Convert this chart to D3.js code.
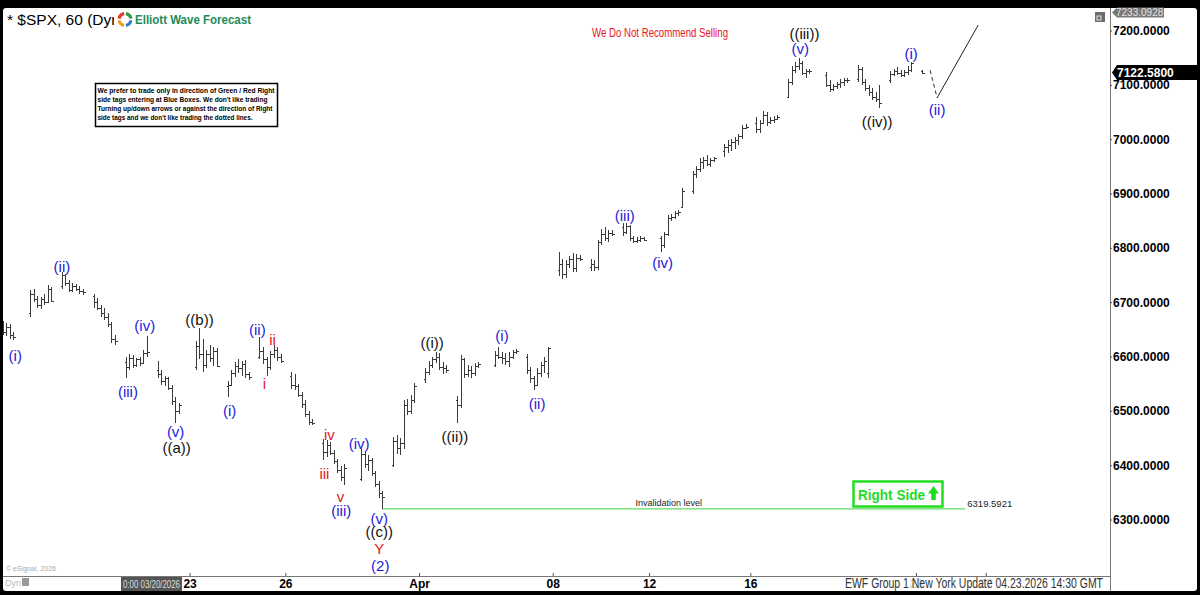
<!DOCTYPE html>
<html>
<head>
<meta charset="utf-8">
<script src="https://cdn.jsdelivr.net/npm/d3@7"></script>
<style>
  body { margin: 0; background: #000; }
  #vis { width: 1200px; height: 595px; }
  text { font-family: "Liberation Sans", Arial, sans-serif; }
  .axis path { display: none; }
  .axis line { stroke: #555; }
  .axis text { font-weight: bold; font-size: 12px; fill: #000; }
  .bar line { stroke: #3a3a3a; stroke-width: 1; shape-rendering: crispEdges; }
</style>
</head>
<body>
<div id="vis"></div>
<script>

// SPX 60 min bars, regular session (7 bars a day)
var sessionDates = ['2026-03-13', '2026-03-16', '2026-03-17', '2026-03-18', '2026-03-19', '2026-03-20',
    '2026-03-23', '2026-03-24', '2026-03-25', '2026-03-26', '2026-03-27',
    '2026-03-30', '2026-03-31', '2026-04-01', '2026-04-02',
    '2026-04-06', '2026-04-07', '2026-04-08', '2026-04-09', '2026-04-10',
    '2026-04-13', '2026-04-14', '2026-04-15', '2026-04-16', '2026-04-17',
    '2026-04-20', '2026-04-21', '2026-04-22', '2026-04-23'];
var futureDates = ['2026-04-24', '2026-04-27', '2026-04-28'];

var opens = [
    [6690, 6675, 6665, 6660, 6645, 6655, 6640],
    [6680, 6715, 6705, 6695, 6705, 6700, 6725],
    [6730, 6750, 6735, 6722, 6730, 6725, 6720],
    [6712, 6700, 6690, 6680, 6672, 6660, 6632],
    [6590, 6580, 6598, 6585, 6595, 6588, 6606],
    [6575, 6568, 6555, 6560, 6542, 6518, 6500],
    [6580, 6620, 6605, 6585, 6605, 6598, 6610],
    [6545, 6548, 6570, 6582, 6578, 6586, 6568],
    [6600, 6610, 6595, 6580, 6605, 6612, 6600],
    [6565, 6548, 6545, 6530, 6512, 6495, 6480],
    [6440, 6425, 6438, 6422, 6408, 6392, 6378],
    [6375, 6420, 6402, 6410, 6385, 6365, 6348],
    [6400, 6445, 6432, 6440, 6510, 6500, 6520],
    [6558, 6572, 6585, 6595, 6600, 6580, 6578],
    [6520, 6510, 6595, 6568, 6575, 6570, 6582],
    [6585, 6602, 6600, 6598, 6592, 6600, 6608],
    [6600, 6575, 6560, 6548, 6570, 6585, 6570],
    [6760, 6770, 6752, 6770, 6780, 6762, 6782],
    [6765, 6770, 6765, 6810, 6825, 6818, 6828],
    [6838, 6830, 6840, 6818, 6812, 6815, 6818],
    [6818, 6805, 6826, 6855, 6856, 6864, 6876],
    [6905, 6935, 6945, 6958, 6962, 6955, 6962],
    [6978, 6985, 6990, 6995, 6998, 7005, 7020],
    [7030, 7018, 7030, 7045, 7032, 7035, 7038],
    [7078, 7105, 7128, 7135, 7140, 7122, 7125],
    [7118, 7100, 7092, 7098, 7102, 7105, 7108],
    [7110, 7130, 7105, 7094, 7086, 7078, 7074],
    [7108, 7120, 7125, 7122, 7118, 7124, 7128],
    [7125]
];
var highs = [
    [6700, 6685, 6672, 6665, 6662, 6660, 6645],
    [6722, 6725, 6712, 6710, 6715, 6732, 6728],
    [6755, 6752, 6740, 6735, 6734, 6730, 6724],
    [6715, 6708, 6695, 6690, 6680, 6664, 6640],
    [6600, 6604, 6602, 6598, 6600, 6612, 6637],
    [6592, 6575, 6565, 6562, 6548, 6525, 6515],
    [6628, 6652, 6632, 6612, 6622, 6618, 6615],
    [6555, 6575, 6590, 6596, 6592, 6594, 6572],
    [6635, 6618, 6600, 6610, 6622, 6618, 6604],
    [6572, 6568, 6550, 6535, 6520, 6500, 6485],
    [6448, 6446, 6442, 6428, 6412, 6398, 6402],
    [6430, 6425, 6418, 6414, 6390, 6370, 6352],
    [6452, 6455, 6450, 6520, 6522, 6530, 6552],
    [6578, 6592, 6600, 6608, 6606, 6590, 6584],
    [6528, 6603, 6598, 6585, 6582, 6588, 6590],
    [6610, 6618, 6608, 6606, 6608, 6612, 6614],
    [6605, 6580, 6565, 6578, 6590, 6600, 6618],
    [6792, 6780, 6778, 6785, 6790, 6788, 6786],
    [6780, 6778, 6815, 6835, 6838, 6832, 6832],
    [6845, 6846, 6842, 6822, 6820, 6822, 6820],
    [6822, 6830, 6860, 6862, 6868, 6870, 6910],
    [6942, 6950, 6966, 6968, 6970, 6965, 6968],
    [6992, 6998, 7000, 7004, 7010, 7026, 7028],
    [7040, 7035, 7052, 7050, 7040, 7042, 7044],
    [7110, 7134, 7142, 7150, 7144, 7130, 7130],
    [7124, 7108, 7102, 7106, 7110, 7112, 7112],
    [7136, 7132, 7110, 7100, 7094, 7086, 7100],
    [7126, 7130, 7132, 7128, 7128, 7134, 7142],
    [7128]
];
var lows = [
    [6670, 6660, 6650, 6640, 6638, 6632, 6630],
    [6673, 6700, 6690, 6688, 6695, 6698, 6700],
    [6725, 6730, 6718, 6718, 6720, 6715, 6714],
    [6690, 6685, 6672, 6668, 6655, 6625, 6622],
    [6560, 6575, 6578, 6580, 6582, 6586, 6600],
    [6560, 6548, 6545, 6538, 6510, 6478, 6495],
    [6575, 6595, 6572, 6578, 6590, 6582, 6580],
    [6525, 6545, 6562, 6570, 6565, 6560, 6556],
    [6595, 6586, 6565, 6576, 6598, 6592, 6588],
    [6540, 6538, 6525, 6505, 6488, 6474, 6474],
    [6410, 6415, 6418, 6402, 6385, 6370, 6364],
    [6370, 6395, 6390, 6380, 6360, 6340, 6319.59],
    [6396, 6420, 6418, 6430, 6492, 6495, 6515],
    [6552, 6566, 6578, 6588, 6575, 6568, 6570],
    [6478, 6505, 6560, 6562, 6560, 6565, 6578],
    [6580, 6596, 6586, 6585, 6580, 6595, 6605],
    [6568, 6552, 6538, 6545, 6562, 6570, 6560],
    [6748, 6742, 6745, 6762, 6755, 6756, 6776],
    [6758, 6758, 6760, 6805, 6812, 6810, 6822],
    [6822, 6826, 6812, 6808, 6809, 6810, 6812],
    [6792, 6800, 6822, 6850, 6853, 6858, 6874],
    [6900, 6928, 6940, 6945, 6950, 6948, 6958],
    [6968, 6975, 6978, 6982, 6990, 7000, 7018],
    [7011, 7012, 7028, 7025, 7028, 7030, 7035],
    [7075, 7100, 7122, 7128, 7118, 7112, 7120],
    [7096, 7086, 7088, 7092, 7095, 7098, 7104],
    [7105, 7100, 7088, 7080, 7072, 7068, 7058],
    [7104, 7116, 7118, 7114, 7115, 7118, 7124],
    [7120]
];
var closes = [
    [6675, 6665, 6660, 6645, 6655, 6640, 6636],
    [6715, 6705, 6695, 6705, 6700, 6725, 6703],
    [6750, 6735, 6722, 6730, 6725, 6720, 6718],
    [6700, 6690, 6680, 6672, 6660, 6632, 6628],
    [6580, 6598, 6585, 6595, 6588, 6606, 6608],
    [6568, 6555, 6560, 6542, 6518, 6500, 6510],
    [6620, 6605, 6585, 6605, 6598, 6610, 6583],
    [6548, 6570, 6582, 6578, 6586, 6568, 6562],
    [6610, 6595, 6580, 6605, 6612, 6600, 6592],
    [6548, 6545, 6530, 6512, 6495, 6480, 6478],
    [6425, 6438, 6422, 6408, 6392, 6378, 6395],
    [6420, 6402, 6410, 6385, 6365, 6348, 6342],
    [6445, 6432, 6440, 6510, 6500, 6520, 6545],
    [6572, 6585, 6595, 6600, 6580, 6578, 6576],
    [6510, 6595, 6568, 6575, 6570, 6582, 6586],
    [6602, 6600, 6598, 6592, 6600, 6608, 6610],
    [6575, 6560, 6548, 6570, 6585, 6592, 6615],
    [6770, 6752, 6770, 6780, 6762, 6782, 6780],
    [6770, 6765, 6810, 6825, 6818, 6828, 6826],
    [6830, 6840, 6818, 6812, 6815, 6818, 6814],
    [6805, 6826, 6855, 6856, 6864, 6866, 6905],
    [6935, 6945, 6958, 6962, 6955, 6962, 6966],
    [6985, 6990, 6995, 6998, 7005, 7020, 7022],
    [7018, 7030, 7045, 7032, 7035, 7038, 7040],
    [7105, 7128, 7135, 7140, 7122, 7125, 7126],
    [7100, 7092, 7098, 7102, 7105, 7108, 7109],
    [7130, 7105, 7094, 7086, 7078, 7074, 7066],
    [7120, 7125, 7122, 7118, 7124, 7128, 7140],
    [7122.58]
];

var yTicks = [6300, 6400, 6500, 6600, 6700, 6800, 6900, 7000, 7100, 7200];
var xTickDates = ['2026-03-23', '2026-03-26', '2026-04-01', '2026-04-08', '2026-04-12', '2026-04-16', '2026-04-23', '2026-04-27'];
var xTickLabels = ['23', '26', 'Apr', '08', '12', '16', '23', '27'];

var lastPrice = 7122.58;
var flagHigh = 7233.0928;
var invalidation = 6319.5921;

// wave counts: text, colour, session, bar slot, price level
var waveLabels = [
    ['(i)', 'b', '2026-03-13', 6.6, 6601],
    ['(ii)', 'b', '2026-03-17', 0, 6766],
    ['(iii)', 'b', '2026-03-19', 0.6, 6535],
    ['(iv)', 'b', '2026-03-19', 5.4, 6656],
    ['(v)', 'b', '2026-03-20', 5.1, 6461],
    ['((a))', 'k', '2026-03-20', 5.4, 6433],
    ['((b))', 'k', '2026-03-23', 1.1, 6667],
    ['(i)', 'b', '2026-03-24', 0.6, 6501],
    ['(ii)', 'b', '2026-03-25', -0.6, 6649],
    ['ii', 'r', '2026-03-25', 3.7, 6632],
    ['i', 'r', '2026-03-25', 1.4, 6551],
    ['iv', 'r', '2026-03-27', 1.7, 6457],
    ['iii', 'r', '2026-03-27', 0.3, 6385],
    ['v', 'r', '2026-03-27', 4.9, 6343],
    ['(iii)', 'b', '2026-03-27', 5.1, 6317],
    ['(iv)', 'b', '2026-03-30', -0.6, 6439],
    ['(v)', 'b', '2026-03-30', 5.1, 6301],
    ['((c))', 'k', '2026-03-30', 5.1, 6277],
    ['Y', 'r', '2026-03-30', 5.1, 6247],
    ['(2)', 'b', '2026-03-30', 5.4, 6216],
    ['((i))', 'k', '2026-04-01', 2, 6625],
    ['((ii))', 'k', '2026-04-02', -0.6, 6452],
    ['(i)', 'b', '2026-04-06', 2, 6638],
    ['(ii)', 'b', '2026-04-07', 2.9, 6514],
    ['(iii)', 'b', '2026-04-10', 0.6, 6860],
    ['(iv)', 'b', '2026-04-13', 0.6, 6772],
    ['(v)', 'b', '2026-04-17', 3.4, 7166],
    ['((iii))', 'k', '2026-04-17', 4.6, 7195],
    ['((iv))', 'k', '2026-04-21', 5.4, 7033],
    ['(i)', 'b', '2026-04-22', 6, 7157],
    ['(ii)', 'b', '2026-04-23', 4.3, 7055]
];

// projected path after the last bar
var projection = [
    ['2026-04-23', 2.3, 7127],
    ['2026-04-23', 4.3, 7076],
    ['2026-04-23', 16, 7210]
];

var width = 1200;
var height = 595;
var plotRight = 1110;
var plotBottom = 576;
var hourStep = 0.11;     // one hourly bar, in session units
var weekendGap = 0.1875; // extra room eSignal leaves between weeks

var colors = { b: '#1c1cd9', k: '#111111', r: '#e3201b' };

var svg = d3.select('#vis')
    .append('svg')
    .attr('width', width)
    .attr('height', height);

// frame
svg.append('rect')
    .attr('width', width)
    .attr('height', height)
    .attr('fill', '#000');
svg.append('rect')
    .attr('x', 3)
    .attr('y', 8)
    .attr('width', width - 6)
    .attr('height', 583)
    .attr('rx', 3)
    .attr('fill', '#fff');

// session positions: one unit a day, a bit extra over weekends / holidays
var parseDate = d3.timeParse('%Y-%m-%d');
var allDates = sessionDates.concat(futureDates);
var sessionPos = {};
var p = 0;
allDates.forEach(function(d, i) {
    if (i > 0) {
        var gap = (parseDate(d) - parseDate(allDates[i - 1])) / 864e5;
        p += 1 + (gap > 1.5 ? weekendGap : 0);
    }
    sessionPos[d] = p;
});
var base = sessionPos['2026-03-16'];
allDates.forEach(function(d) { sessionPos[d] -= base; });

var xScale = d3.scaleLinear()
    .domain([0, sessionPos['2026-04-23']])
    .range([30, 922]);

var yScale = d3.scaleLinear()
    .domain([6300, 7200])
    .range([519.5, 30.5]);

var xAt = function(date, k) {
    return xScale(sessionPos[date] + k * hourStep);
};

var bars = [];
sessionDates.forEach(function(d, i) {
    opens[i].forEach(function(o, k) {
        bars.push({ date: d, k: k, o: o, h: highs[i][k], l: lows[i][k], c: closes[i][k] });
    });
});

svg.append('clipPath')
    .attr('id', 'plotClip')
    .append('rect')
    .attr('x', 3)
    .attr('y', 8)
    .attr('width', plotRight - 3)
    .attr('height', plotBottom - 8);

var g = svg.append('g').attr('clip-path', 'url(#plotClip)');

// note box
var note = svg.append('g');
note.append('rect')
    .attr('x', 95.5)
    .attr('y', 83.5)
    .attr('width', 182)
    .attr('height', 43)
    .attr('fill', '#fff')
    .attr('stroke', '#000')
    .attr('stroke-width', 1.5);
var noteLines = [
    ['We prefer to trade only in direction of Green / Red Right', 177],
    ['side tags entering at Blue Boxes. We don\'t like trading', 170],
    ['Turning up/down arrows or against the direction of Right', 175],
    ['side tags and we don\'t like trading the dotted lines.', 155]
];
note.selectAll('text')
    .data(noteLines)
    .enter().append('text')
    .attr('x', 97.5)
    .attr('y', function(d, i) { return 92.5 + i * 9; })
    .attr('textLength', function(d) { return d[1]; })
    .attr('lengthAdjust', 'spacingAndGlyphs')
    .style('font-size', '7.6px')
    .style('font-weight', 'bold')
    .text(function(d) { return d[0]; });

// invalidation level
g.append('line')
    .attr('x1', xAt('2026-03-30', 6))
    .attr('x2', xAt('2026-04-23', 12.3))
    .attr('y1', yScale(invalidation))
    .attr('y2', yScale(invalidation))
    .attr('stroke', '#62dc62')
    .attr('stroke-width', 1.2);
g.append('text')
    .attr('x', xAt('2026-04-13', 2.3))
    .attr('y', yScale(invalidation) - 2.5)
    .attr('text-anchor', 'middle')
    .style('font-size', '9px')
    .style('fill', '#222')
    .text('Invalidation level');
g.append('text')
    .attr('x', xAt('2026-04-23', 12.9))
    .attr('y', yScale(invalidation) - 2)
    .style('font-size', '9.5px')
    .style('fill', '#222')
    .text(d3.format('.4f')(invalidation));

// ohlc bars
var bar = g.selectAll('g.bar')
    .data(bars)
    .enter().append('g')
    .attr('class', 'bar')
    .attr('transform', function(d) {
        return 'translate(' + (Math.round(xAt(d.date, d.k)) + 0.5) + ',0)';
    });
bar.append('line')
    .attr('y1', function(d) { return yScale(d.h); })
    .attr('y2', function(d) { return yScale(d.l); });
bar.append('line')
    .attr('x1', -2)
    .attr('x2', 0)
    .attr('y1', function(d) { return Math.round(yScale(d.o)) + 0.5; })
    .attr('y2', function(d) { return Math.round(yScale(d.o)) + 0.5; });
bar.append('line')
    .attr('x1', 0)
    .attr('x2', 2)
    .attr('y1', function(d) { return Math.round(yScale(d.c)) + 0.5; })
    .attr('y2', function(d) { return Math.round(yScale(d.c)) + 0.5; });

// projection
var projLine = d3.line()
    .x(function(d) { return xAt(d[0], d[1]); })
    .y(function(d) { return yScale(d[2]); });
g.append('path')
    .attr('d', projLine(projection.slice(0, 2)))
    .attr('fill', 'none')
    .attr('stroke', '#333')
    .attr('stroke-dasharray', '4,3');
g.append('path')
    .attr('d', projLine(projection.slice(1)))
    .attr('fill', 'none')
    .attr('stroke', '#222');

// wave labels
g.selectAll('text.wave')
    .data(waveLabels)
    .enter().append('text')
    .attr('class', 'wave')
    .attr('x', function(d) { return xAt(d[2], d[3]); })
    .attr('y', function(d) { return yScale(d[4]); })
    .attr('dy', '0.36em')
    .attr('text-anchor', 'middle')
    .style('font-size', '15px')
    .style('fill', function(d) { return colors[d[1]]; })
    .text(function(d) { return d[0]; });

// right side badge
var badge = svg.append('g');
badge.append('rect')
    .attr('x', 853.5)
    .attr('y', 481.5)
    .attr('width', 89)
    .attr('height', 25)
    .attr('fill', '#fff')
    .attr('stroke', '#22dd22')
    .attr('stroke-width', 2.5);
badge.append('text')
    .attr('x', 858)
    .attr('y', 499.5)
    .style('font-size', '15px')
    .style('font-weight', 'bold')
    .style('fill', '#1fdc1f')
    .attr('textLength', 67)
    .attr('lengthAdjust', 'spacingAndGlyphs')
    .text('Right Side');
badge.append('path')
    .attr('d', 'M928,493.5 L933.5,486 L939,493.5 L935.8,493.5 L935.8,500 L931.2,500 L931.2,493.5 Z')
    .attr('fill', '#1fdc1f');

// header
svg.append('text')
    .attr('x', 7)
    .attr('y', 25)
    .style('font-size', '15.5px')
    .text('* $SPX, 60 (Dyn');
svg.append('rect')
    .attr('x', 114)
    .attr('y', 9)
    .attr('width', 140)
    .attr('height', 21)
    .attr('fill', '#fff');
var arc = d3.arc().innerRadius(4.3).outerRadius(7.5);
var logoColors = ['#2f9e44', '#2b7bd0', '#f39a1e', '#e23b2c'];
svg.append('g')
    .attr('transform', 'translate(125,19.5)')
    .selectAll('path')
    .data(logoColors)
    .enter().append('path')
    .attr('d', function(d, i) {
        return arc({ startAngle: i * Math.PI / 2 + 0.15, endAngle: (i + 1) * Math.PI / 2 - 0.15 });
    })
    .attr('fill', function(d) { return d; });
svg.append('text')
    .attr('x', 135)
    .attr('y', 24)
    .style('font-size', '12.5px')
    .style('font-weight', 'bold')
    .style('fill', '#238a5a')
    .attr('textLength', 116)
    .attr('lengthAdjust', 'spacingAndGlyphs')
    .text('Elliott Wave Forecast');

svg.append('text')
    .attr('x', 592)
    .attr('y', 37)
    .style('font-size', '12px')
    .style('fill', '#e8141c')
    .attr('textLength', 136)
    .attr('lengthAdjust', 'spacingAndGlyphs')
    .text('We Do Not Recommend Selling');

// axes
svg.append('line')
    .attr('x1', 3)
    .attr('x2', plotRight)
    .attr('y1', plotBottom + 0.5)
    .attr('y2', plotBottom + 0.5)
    .attr('stroke', '#777');
svg.append('line')
    .attr('x1', plotRight + 0.5)
    .attr('x2', plotRight + 0.5)
    .attr('y1', 8)
    .attr('y2', 591)
    .attr('stroke', '#777');

var yAxis = d3.axisRight(yScale)
    .tickValues(yTicks)
    .tickFormat(d3.format('.4f'))
    .tickSize(2)
    .tickPadding(1);
svg.append('g')
    .attr('class', 'axis')
    .attr('transform', 'translate(' + plotRight + ',0)')
    .call(yAxis);

var tickPos = xTickDates.map(function(d) {
    var s = allDates.filter(function(a) { return a >= d; })[0];
    var v = sessionPos[s] - 0.19;
    if (s !== d) v -= 0.17;
    return v;
});
var xAxis = d3.axisBottom(xScale)
    .tickValues(tickPos)
    .tickFormat(function(d, i) { return xTickLabels[i]; })
    .tickSize(-3)
    .tickPadding(3);
svg.append('g')
    .attr('class', 'axis')
    .attr('transform', 'translate(0,' + plotBottom + ')')
    .call(xAxis);

// price flags
var flag = function(price, x2, h, bg) {
    var y = yScale(price);
    return svg.append('path')
        .attr('d', 'M1112,' + y + ' L1117,' + (y - h) + ' L' + x2 + ',' + (y - h) +
            ' L' + x2 + ',' + (y + h) + ' L1117,' + (y + h) + ' Z')
        .attr('fill', bg);
};
flag(flagHigh, 1164, 5, '#777');
svg.append('text')
    .attr('x', 1116)
    .attr('y', yScale(flagHigh))
    .attr('dy', '0.36em')
    .style('font-size', '10px')
    .style('fill', '#e6e6e6')
    .text(d3.format('.4f')(flagHigh));
flag(lastPrice, 1200, 7.5, '#000');
svg.append('text')
    .attr('x', 1117)
    .attr('y', yScale(lastPrice))
    .attr('dy', '0.36em')
    .style('font-size', '12px')
    .style('font-weight', 'bold')
    .style('fill', '#fff')
    .text(d3.format('.4f')(lastPrice));

// small chart icon
svg.append('rect')
    .attr('x', 1095)
    .attr('y', 12)
    .attr('width', 10)
    .attr('height', 10)
    .attr('fill', '#6e6e6e');
svg.append('rect')
    .attr('x', 1097)
    .attr('y', 16)
    .attr('width', 4)
    .attr('height', 4)
    .attr('fill', 'none')
    .attr('stroke', '#fff')
    .attr('stroke-width', 0.8);

// bottom strip
svg.append('text')
    .attr('x', 6)
    .attr('y', 571)
    .style('font-size', '7px')
    .style('fill', '#aaa')
    .text('\u00a9 eSignal, 2026');
svg.append('text')
    .attr('x', 5)
    .attr('y', 586)
    .style('font-size', '9px')
    .style('fill', '#bbb')
    .text('Dyn');
svg.append('rect')
    .attr('x', 22)
    .attr('y', 578)
    .attr('width', 7)
    .attr('height', 8)
    .attr('fill', '#999');

svg.append('rect')
    .attr('x', 121)
    .attr('y', 577)
    .attr('width', 61)
    .attr('height', 14)
    .attr('fill', '#555');
svg.append('text')
    .attr('x', 123)
    .attr('y', 587.5)
    .style('font-size', '10px')
    .style('fill', '#ddd')
    .attr('textLength', 57)
    .attr('lengthAdjust', 'spacingAndGlyphs')
    .text('0:00 03/20/2026');

// update stamp sits over the last axis labels
svg.append('rect')
    .attr('x', 843)
    .attr('y', 577)
    .attr('width', 263)
    .attr('height', 14)
    .attr('fill', '#fff')
    .attr('opacity', 0.85);
svg.append('text')
    .attr('x', 845)
    .attr('y', 588)
    .style('font-size', '14px')
    .style('fill', '#333')
    .attr('textLength', 258)
    .attr('lengthAdjust', 'spacingAndGlyphs')
    .text('EWF Group 1 New York Update 04.23.2026 14:30 GMT');

</script>
</body>
</html>
